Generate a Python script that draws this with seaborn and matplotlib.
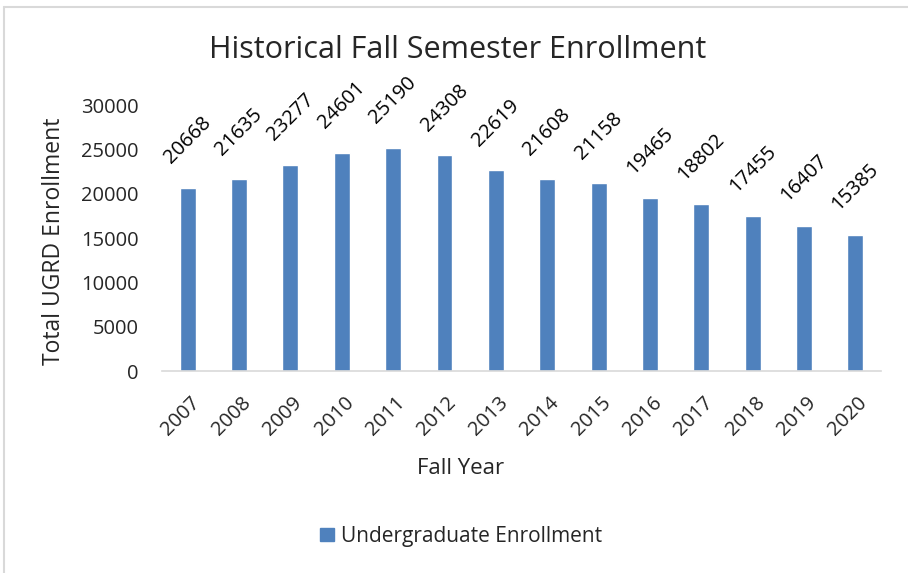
import matplotlib
matplotlib.use("Agg")
import matplotlib.pyplot as plt
import matplotlib.transforms as mtransforms
import seaborn as sns
import pandas as pd
from matplotlib.patches import Patch
from matplotlib.lines import Line2D

# Data
years = ["2007", "2008", "2009", "2010", "2011", "2012", "2013",
         "2014", "2015", "2016", "2017", "2018", "2019", "2020"]
enrollment = [20668, 21635, 23277, 24601, 25190, 24308, 22619,
              21608, 21158, 19465, 18802, 17455, 16407, 15385]

bar_color = "#4F81BD"

sns.set_theme(style="white")
plt.rcParams["font.family"] = ["Open Sans", "DejaVu Sans"]

df = pd.DataFrame({"Fall Year": years, "Enrollment": enrollment})

fig = plt.figure(figsize=(9.08, 5.73), dpi=100)
ax = fig.add_axes([0.1784, 0.3525, 0.7919, 0.4642])

sns.barplot(data=df, x="Fall Year", y="Enrollment", color=bar_color,
            width=0.31, saturation=1, ax=ax)

ax.set_xlim(-0.5, len(years) - 0.5)
ax.set_ylim(0, 30000)
ax.set_yticks(range(0, 30001, 5000))
ax.tick_params(axis="y", labelsize=14.5, length=0, pad=17)
ax.tick_params(axis="x", labelsize=14.5, length=0, pad=15.5)
shift = mtransforms.ScaledTranslation(2 / 100, 0, fig.dpi_scale_trans)
for lbl in ax.get_xticklabels():
    lbl.set_rotation(45)
    lbl.set_ha("right")
    lbl.set_va("top")
    lbl.set_rotation_mode("anchor")
    lbl.set_transform(lbl.get_transform() + shift)

for s in ["top", "right", "left"]:
    ax.spines[s].set_visible(False)
ax.spines["bottom"].set_color("#d9d9d9")
ax.spines["bottom"].set_linewidth(1.2)

# data labels
for i, v in enumerate(enrollment):
    ax.annotate(str(v), xy=(i, v), xytext=(0, 20), textcoords="offset pixels",
                rotation=45, ha="center", va="bottom", fontsize=14.5, color="black")

ax.set_xlabel("Fall Year", fontsize=16)
ax.xaxis.set_label_coords(0.415, -0.327)
ax.set_ylabel("Total UGRD Enrollment", fontsize=16.5)
ax.yaxis.set_label_coords(-0.134, 0.489)

fig.text(0.504, 0.912, "Historical Fall Semester Enrollment", ha="center",
         va="center", fontsize=22)

handles = [Patch(facecolor=bar_color, edgecolor=bar_color, label="Undergraduate Enrollment")]
fig.legend(handles=handles, loc="center", bbox_to_anchor=(0.508, 0.064), frameon=False,
           fontsize=15, handlelength=0.65, handleheight=0.65, handletextpad=0.35)

# chart frame (only top and left visible in the crop)
fig.add_artist(Line2D([0.004, 1.0], [0.988, 0.988], color="#d9d9d9", lw=1.5,
                      transform=fig.transFigure))
fig.add_artist(Line2D([0.0045, 0.0045], [0.0, 0.988], color="#d9d9d9", lw=1.5,
                      transform=fig.transFigure))

fig.savefig("out.png", dpi=100)
